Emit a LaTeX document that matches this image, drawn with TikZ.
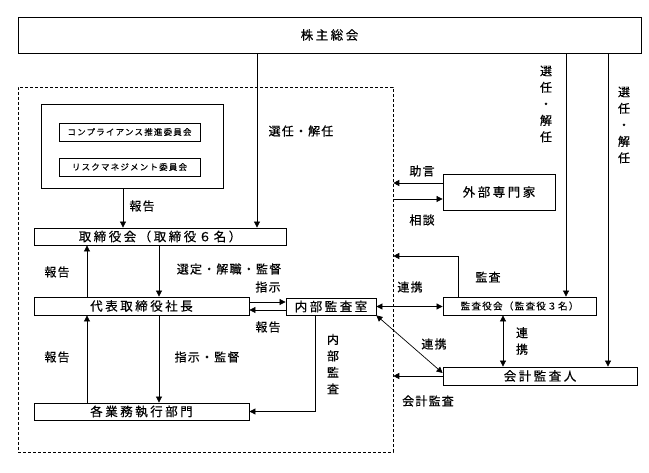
\documentclass[tikz,border=0pt]{standalone}
\usepackage{fontspec}
\newfontfamily\jp[FakeBold=0.4]{Noto Sans CJK JP}
\newfontfamily\jpw[LetterSpace=20,FakeBold=0.4]{Noto Sans CJK JP}
\newfontfamily\jpl[LetterSpace=10,FakeBold=0.4]{Noto Sans CJK JP}
\newfontfamily\jps[LetterSpace=14,FakeBold=0.3]{Noto Sans CJK JP}
\usetikzlibrary{arrows.meta}
\begin{document}
\begin{tikzpicture}[x=1pt,y=-1pt,
 box/.style={draw, line width=0.8pt, inner sep=0pt, rectangle},
 bigtxt/.style={font=\jpw\fontsize{12.5}{14}\selectfont},
 smalltxt/.style={font=\jps\fontsize{8.5}{10}\selectfont},
 midtxt/.style={font=\jps\fontsize{9.5}{11}\selectfont},
 lab/.style={inner sep=0pt, font=\jpl\fontsize{12}{14}\selectfont},
 vlab/.style={inner sep=0pt, align=center, font=\jp\fontsize{12}{16.5}\selectfont},
 arr/.style={line width=0.7pt, -{Triangle[length=6pt,width=6pt]}},
 darr/.style={line width=0.7pt, {Triangle[length=6pt,width=6pt]}-{Triangle[length=6pt,width=6pt]}},
]
\useasboundingbox (0,0) rectangle (649,473);

% boxes
\node[box, bigtxt, minimum width=623pt, minimum height=36pt] (share) at (329.5,35) {株主総会};
\node[draw, dash pattern=on 3pt off 2pt, line width=0.6pt, inner sep=0pt, minimum width=375pt, minimum height=365pt] (dashbox) at (205.5,269.5) {};
\node[box, minimum width=182pt, minimum height=84pt] (group) at (132,146) {};
\node[box, smalltxt, minimum width=141pt, minimum height=18pt] (comp) at (129.5,132) {コンプライアンス推進委員会};
\node[box, smalltxt, minimum width=141pt, minimum height=18pt] (risk) at (129.5,167) {リスクマネジメント委員会};
\node[box, bigtxt, minimum width=252pt, minimum height=17pt] (board) at (160,236.5) {取締役会（取締役６名）};
\node[box, bigtxt, minimum width=215pt, minimum height=18pt] (ceo) at (141.5,306) {代表取締役社長};
\node[box, bigtxt, minimum width=215pt, minimum height=17pt] (depts) at (141.5,411.5) {各業務執行部門};
\node[box, bigtxt, minimum width=90pt, minimum height=17pt] (office) at (331,306.5) {内部監査室};
\node[box, bigtxt, minimum width=112pt, minimum height=36pt] (expert) at (499,192) {外部専門家};
\node[box, midtxt, minimum width=153pt, minimum height=18pt] (kansa) at (519.5,306) {監査役会（監査役３名）};
\node[box, bigtxt, minimum width=194pt, minimum height=18pt] (audit) at (540,376) {会計監査人};

% helper coordinates
\coordinate (xA) at (257,0);
\coordinate (xB) at (123,0);
\coordinate (xUp) at (87,0);
\coordinate (xDn) at (159,0);
\coordinate (xIA) at (315,0);
\coordinate (xK) at (458,0);
\coordinate (xKA) at (503,0);
\coordinate (xS1) at (566,0);
\coordinate (xS2) at (608,0);
\coordinate (yAd) at (0,183);
\coordinate (yCo) at (0,199);
\coordinate (yKs) at (0,256);
\coordinate (yI1) at (0,302);
\coordinate (yI2) at (0,310);

% connectors
\draw[arr] (share.south -| xA) -- (board.north -| xA);
\draw[arr] (group.south -| xB) -- (board.north -| xB);
\draw[arr] (ceo.north -| xUp) -- (board.south -| xUp);
\draw[arr] (board.south -| xDn) -- (ceo.north -| xDn);
\draw[arr] (depts.north -| xUp) -- (ceo.south -| xUp);
\draw[arr] (ceo.south -| xDn) -- (depts.north -| xDn);
\draw[arr] (ceo.east |- yI1) -- (office.west |- yI1);
\draw[arr] (office.west |- yI2) -- (ceo.east |- yI2);
\draw[arr] (office.south -| xIA) |- (depts.east);
\draw[arr] (expert.west |- yAd) -- (dashbox.east |- yAd);
\draw[arr] (dashbox.east |- yCo) -- (expert.west |- yCo);
\draw[arr] (kansa.north -| xK) |- (dashbox.east |- yKs);
\draw[darr] (office.east) -- (office.east -| kansa.west);
\draw[darr] (office.south east) -- ([yshift=3pt]audit.west);
\draw[darr] (kansa.south -| xKA) -- (audit.north -| xKA);
\draw[arr] (share.south -| xS1) -- (kansa.north -| xS1);
\draw[arr] (share.south -| xS2) -- (audit.north -| xS2);
\draw[arr] (audit.west) -- (audit.west -| dashbox.east);

% labels
\node[lab] (l1) at (301,131) {選任・解任};
\node[lab] (l2) at (142,206) {報告};
\node[lab] (l3) at (57,272) {報告};
\node[lab] (l4) at (57,357) {報告};
\node[lab] (l5) at (229,269) {選定・解職・監督};
\node[lab] (l6) at (207,357) {指示・監督};
\node[lab] (l7) at (268,287) {指示};
\node[lab] (l8) at (268,327) {報告};
\node[vlab] (l9) at (333,364) {内\\部\\監\\査};
\node[lab] (l10) at (422,171) {助言};
\node[lab] (l11) at (422,220) {相談};
\node[lab] (l12) at (488,277) {監査};
\node[lab] (l13) at (410,287) {連携};
\node[lab] (l14) at (434,344) {連携};
\node[vlab] (l15) at (522,341) {連\\携};
\node[lab] (l16) at (428,401) {会計監査};
\node[vlab] (l17) at (546,104) {選\\任\\・\\解\\任};
\node[vlab] (l18) at (624,125) {選\\任\\・\\解\\任};
\end{tikzpicture}
\end{document}
